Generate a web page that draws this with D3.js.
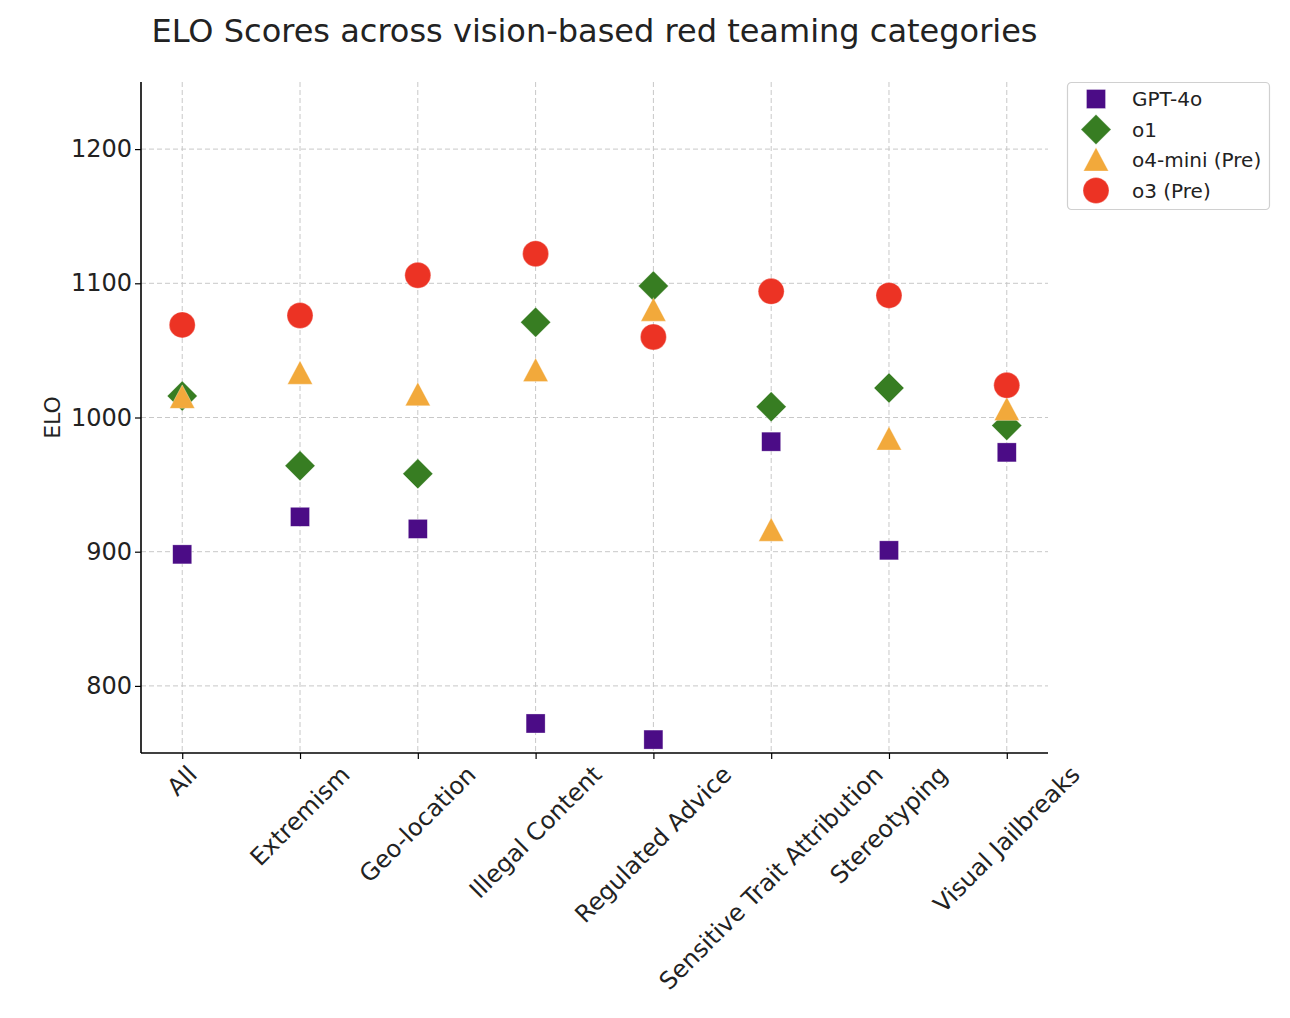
<!DOCTYPE html>
<html>
<head>
<meta charset="utf-8">
<script src="https://cdn.jsdelivr.net/npm/d3@7"></script>
<style>
    body { margin: 0; background: #fff; }
    text { font-family: "DejaVu Sans", sans-serif; fill: #222; }
</style>
</head>
<body>
<div id="chart"></div>
<script>

// categories along x
var categories = ["All", "Extremism", "Geo-location", "Illegal Content", "Regulated Advice",
    "Sensitive Trait Attribution", "Stereotyping", "Visual Jailbreaks"];

// ELO per model, same order as categories
var gpt4o   = [898, 926, 917, 772, 760, 982, 901, 974];
var o1      = [1016, 964, 958, 1071, 1098, 1008, 1022, 994];
var o4mini  = [1015, 1033, 1017, 1035, 1080, 916, 984, 1006];
var o3      = [1069, 1076, 1106, 1122, 1060, 1094, 1091, 1024];

var yTicks = [800, 900, 1000, 1100, 1200];

var seriesNames = ["GPT-4o", "o1", "o4-mini (Pre)", "o3 (Pre)"];


EloVis = function(_parentElement) {
    this.parentElement = _parentElement;
    this.initVis();
};

EloVis.prototype.initVis = function() {
    var vis = this;

    vis.margin = {top: 82, right: 242, bottom: 265, left: 141};
    vis.width = 1290 - vis.margin.left - vis.margin.right;
    vis.height = 1018 - vis.margin.top - vis.margin.bottom;

    vis.svg = d3.select(vis.parentElement).append("svg")
        .attr("width", 1290)
        .attr("height", 1018);

    vis.g = vis.svg.append("g")
        .attr("transform", "translate(" + vis.margin.left + "," + vis.margin.top + ")");

    // matplotlib style 5% padding on the index axis
    vis.x = d3.scaleLinear().domain([-0.35, categories.length - 1 + 0.35]).range([0, vis.width]);
    vis.y = d3.scaleLinear().domain([750, 1250]).range([vis.height, 0]);

    vis.series = [
        {name: seriesNames[0], values: gpt4o,  color: "#4b0c86", shape: "square"},
        {name: seriesNames[1], values: o1,     color: "#377d22", shape: "diamond"},
        {name: seriesNames[2], values: o4mini, color: "#f2a93b", shape: "triangle"},
        {name: seriesNames[3], values: o3,     color: "#ec3324", shape: "circle"}
    ];

    vis.updateVis();
};

EloVis.prototype.marker = function(sel, shape, color) {
    if (shape == "square") {
        sel.append("rect").attr("x", -9.5).attr("y", -9.5).attr("width", 19).attr("height", 19);
    } else if (shape == "diamond") {
        sel.append("path").attr("d", "M0,-15L15,0L0,15L-15,0Z");
    } else if (shape == "triangle") {
        sel.append("path").attr("d", "M0,-12.5L12.5,11L-12.5,11Z");
    } else {
        sel.append("circle").attr("r", 13);
    }
    sel.selectAll("*").attr("fill", color).attr("stroke", "#fff").attr("stroke-width", 0.6).attr("stroke-opacity", 0.5);
};

EloVis.prototype.updateVis = function() {
    var vis = this;

    // grid
    vis.g.append("g").selectAll("line").data(yTicks).enter().append("line")
        .attr("x1", 0).attr("x2", vis.width)
        .attr("y1", function(d) { return vis.y(d); })
        .attr("y2", function(d) { return vis.y(d); })
        .attr("stroke", "#c8c8c8").attr("stroke-dasharray", "5,3");

    vis.g.append("g").selectAll("line").data(categories).enter().append("line")
        .attr("x1", function(d, i) { return vis.x(i); })
        .attr("x2", function(d, i) { return vis.x(i); })
        .attr("y1", 0).attr("y2", vis.height)
        .attr("stroke", "#c8c8c8").attr("stroke-dasharray", "5,3");

    // axes
    var yAxis = d3.axisLeft(vis.y).tickValues(yTicks).tickFormat(d3.format("d")).tickSize(6).tickPadding(3);
    var yG = vis.g.append("g").call(yAxis);
    yG.select(".domain").attr("stroke", "#000").attr("stroke-width", 1.6).attr("d", "M0,0V" + vis.height);
    yG.selectAll(".tick line").attr("stroke", "#000").attr("stroke-width", 1.2);
    yG.selectAll(".tick text").attr("font-size", 24).attr("fill", "#222")
        .attr("font-family", "DejaVu Sans");

    var xAxis = d3.axisBottom(vis.x).tickValues(d3.range(categories.length)).tickSize(6).tickFormat("");
    var xG = vis.g.append("g").attr("transform", "translate(0," + vis.height + ")").call(xAxis);
    xG.select(".domain").attr("stroke", "#000").attr("stroke-width", 1.6).attr("d", "M0,0H" + vis.width);
    xG.selectAll(".tick line").attr("stroke", "#000").attr("stroke-width", 1.2);

    // rotated category labels, bbox centred on the tick
    var fs = 24;
    vis.g.selectAll(".xlab").data(categories).enter().append("text")
        .attr("class", "xlab")
        .attr("font-size", fs)
        .attr("text-anchor", "middle")
        .attr("dominant-baseline", "central")
        .text(function(d) { return d; })
        .attr("transform", function(d, i) {
            var len = this.getComputedTextLength();
            var half = (len + fs) * Math.SQRT1_2 / 2;
            return "translate(" + vis.x(i) + "," + (vis.height + 9 + half) + ") rotate(-45)";
        });

    // points
    vis.series.forEach(function(s) {
        s.values.forEach(function(v, i) {
            var m = vis.g.append("g")
                .attr("transform", "translate(" + vis.x(i) + "," + vis.y(v) + ")");
            vis.marker(m, s.shape, s.color);
        });
    });

    // y label
    vis.svg.append("text")
        .attr("transform", "translate(60," + (vis.margin.top + vis.y(1000)) + ") rotate(-90)")
        .attr("text-anchor", "middle")
        .attr("font-size", 22)
        .text("ELO");

    // title
    vis.svg.append("text")
        .attr("x", vis.margin.left + vis.width / 2)
        .attr("y", 42)
        .attr("text-anchor", "middle")
        .attr("font-size", 32)
        .text("ELO Scores across vision-based red teaming categories");

    // legend
    var leg = vis.svg.append("g").attr("transform", "translate(1067,82)");
    leg.append("rect").attr("x", 0.5).attr("y", 0.5).attr("width", 202).attr("height", 127)
        .attr("rx", 4).attr("fill", "#fff").attr("stroke", "#d0d0d0").attr("stroke-width", 1.2);

    vis.series.forEach(function(s, i) {
        var row = leg.append("g").attr("transform", "translate(29," + (17 + i * 30.5) + ")");
        vis.marker(row, s.shape, s.color);
        row.append("text").attr("x", 36).attr("y", 0)
            .attr("dominant-baseline", "central")
            .attr("font-size", 20)
            .text(s.name);
    });
};

new EloVis("#chart");

</script>
</body>
</html>
